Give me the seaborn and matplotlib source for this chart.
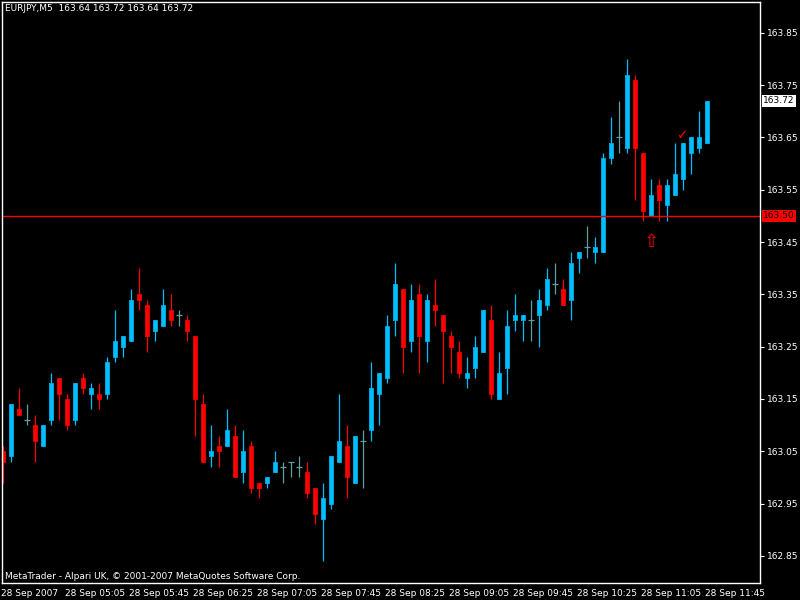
import numpy as np
import pandas as pd
import matplotlib
matplotlib.use("Agg")
import matplotlib.pyplot as plt
import matplotlib.transforms as mtransforms
import seaborn as sns

# EURJPY M5, 28 Sep 2007 04:25 .. 11:45
opens = [163.05, 163.04, 163.13, 163.11, 163.10, 163.06, 163.11, 163.19, 163.15, 163.11,
         163.19, 163.16, 163.16, 163.16, 163.23, 163.25, 163.26, 163.35, 163.33, 163.28,
         163.29, 163.32, 163.31, 163.30, 163.27, 163.14, 163.04, 163.06, 163.06, 163.08,
         163.01, 163.06, 162.99, 162.99, 163.01, 163.02, 163.03, 163.02, 163.01, 162.98,
         162.92, 162.95, 163.03, 163.06, 162.99, 163.07, 163.09, 163.16, 163.19, 163.30,
         163.36, 163.26, 163.35, 163.26, 163.33, 163.31, 163.27, 163.24, 163.19, 163.21,
         163.24, 163.30, 163.15, 163.21, 163.30, 163.30, 163.30, 163.31, 163.33, 163.37,
         163.36, 163.34, 163.42, 163.44, 163.43, 163.43, 163.61, 163.65, 163.63, 163.76,
         163.62, 163.50, 163.56, 163.52, 163.54, 163.57, 163.62, 163.63, 163.64]
highs = [163.06, 163.14, 163.17, 163.14, 163.12, 163.10, 163.20, 163.19, 163.16, 163.18,
         163.20, 163.18, 163.18, 163.23, 163.32, 163.27, 163.36, 163.40, 163.34, 163.30,
         163.36, 163.35, 163.32, 163.31, 163.27, 163.16, 163.10, 163.08, 163.13, 163.10,
         163.09, 163.07, 162.99, 163.00, 163.05, 163.03, 163.03, 163.04, 163.03, 162.98,
         162.99, 163.04, 163.16, 163.10, 163.08, 163.09, 163.22, 163.20, 163.31, 163.41,
         163.36, 163.37, 163.37, 163.35, 163.38, 163.31, 163.28, 163.26, 163.23, 163.27,
         163.32, 163.33, 163.24, 163.32, 163.35, 163.31, 163.34, 163.36, 163.40, 163.41,
         163.38, 163.43, 163.43, 163.48, 163.46, 163.62, 163.69, 163.72, 163.80, 163.77,
         163.62, 163.57, 163.57, 163.57, 163.64, 163.64, 163.65, 163.70, 163.72]
lows = [162.99, 163.03, 163.12, 163.10, 163.03, 163.06, 163.10, 163.11, 163.09, 163.10,
        163.16, 163.13, 163.13, 163.15, 163.22, 163.23, 163.26, 163.32, 163.24, 163.26,
        163.29, 163.29, 163.29, 163.26, 163.08, 163.03, 163.02, 163.02, 163.06, 163.00,
        162.99, 162.97, 162.96, 162.98, 163.01, 162.99, 163.00, 163.00, 162.96, 162.91,
        162.84, 162.94, 163.03, 162.96, 162.99, 162.98, 163.07, 163.10, 163.18, 163.27,
        163.20, 163.24, 163.20, 163.22, 163.29, 163.18, 163.20, 163.19, 163.17, 163.19,
        163.24, 163.15, 163.15, 163.16, 163.28, 163.26, 163.26, 163.25, 163.32, 163.35,
        163.33, 163.30, 163.39, 163.42, 163.41, 163.43, 163.60, 163.62, 163.62, 163.53,
        163.49, 163.50, 163.49, 163.49, 163.54, 163.55, 163.58, 163.62, 163.64]
closes = [163.03, 163.14, 163.12, 163.11, 163.07, 163.10, 163.18, 163.16, 163.10, 163.18,
          163.17, 163.17, 163.15, 163.22, 163.26, 163.27, 163.34, 163.34, 163.27, 163.30,
          163.33, 163.30, 163.31, 163.28, 163.15, 163.03, 163.05, 163.05, 163.09, 163.00,
          163.05, 162.98, 162.98, 163.00, 163.03, 163.02, 163.03, 163.02, 162.97, 162.93,
          162.96, 163.04, 163.07, 163.00, 163.08, 163.07, 163.17, 163.20, 163.29, 163.37,
          163.25, 163.34, 163.27, 163.34, 163.32, 163.28, 163.25, 163.20, 163.20, 163.25,
          163.32, 163.16, 163.20, 163.29, 163.31, 163.31, 163.30, 163.34, 163.38, 163.37,
          163.33, 163.41, 163.43, 163.44, 163.44, 163.61, 163.64, 163.65, 163.77, 163.63,
          163.51, 163.54, 163.53, 163.56, 163.58, 163.64, 163.65, 163.65, 163.72]

tick_labels = ["28 Sep 2007", "28 Sep 05:05", "28 Sep 05:45", "28 Sep 06:25",
               "28 Sep 07:05", "28 Sep 07:45", "28 Sep 08:25", "28 Sep 09:05",
               "28 Sep 09:45", "28 Sep 10:25", "28 Sep 11:05", "28 Sep 11:45"]
price_ticks = [162.85, 162.95, 163.05, 163.15, 163.25, 163.35, 163.45,
               163.55, 163.65, 163.75, 163.85]
hline_price = 163.50
arrow_bar, arrow_price = 81, 163.45
check_bar, check_price = 85, 163.655

df = pd.DataFrame({"open": opens, "high": highs, "low": lows, "close": closes})
df["idx"] = np.arange(len(df))

UP = "#00bfff"
DOWN = "#ff0000"
DOJI = "#5f9ea0"

sns.set_theme(style="dark", rc={
    "axes.facecolor": "black", "figure.facecolor": "black",
    "axes.edgecolor": "white", "axes.grid": False,
    "text.color": "white", "xtick.color": "white", "ytick.color": "white",
})
plt.rcParams["font.family"] = ["DejaVu Sans"]

fig = plt.figure(figsize=(8, 6), dpi=100)
ax = fig.add_axes([2 / 800, 17 / 600, 758 / 800, 581 / 600])

up = df[df.close > df.open]
down = df[df.close < df.open]
flat = df[df.close == df.open]

# wicks
ax.vlines(up.idx, up.low, up.high, color=UP, lw=0.9)
ax.vlines(down.idx, down.low, down.high, color=DOWN, lw=0.9)
ax.vlines(flat.idx, flat.low, flat.high, color=DOJI, lw=0.9)

# bodies
ax.bar(up.idx, up.close - up.open, bottom=up.open, width=0.62, color=UP,
       edgecolor=UP, linewidth=0.5)
ax.bar(down.idx, down.open - down.close, bottom=down.close, width=0.62, color=DOWN,
       edgecolor=DOWN, linewidth=0.5)
ax.hlines(flat.open, flat.idx - 0.33, flat.idx + 0.33, color=DOJI, lw=0.9)

ax.axhline(hline_price, color="red", lw=1.0)

ax.set_xlim(-0.125, 94.625)
ax.set_ylim(162.798, 163.909)

for s in ax.spines.values():
    s.set_color("white")
    s.set_linewidth(1)

ax.yaxis.tick_right()
ax.set_yticks(price_ticks)
ax.set_yticklabels([f"{p:.2f}" for p in price_ticks])
ax.tick_params(axis="y", direction="out", length=3, width=0.8, pad=2, labelsize=6.5)

ax.set_xticks(np.arange(0, len(df), 8))
ax.set_xticklabels(tick_labels, ha="left")
ax.tick_params(axis="x", direction="out", length=3, width=0.8, pad=1, labelsize=6.5)
offset = mtransforms.ScaledTranslation(-2 / 100, 0, fig.dpi_scale_trans)
for lab in ax.get_xticklabels():
    lab.set_transform(lab.get_transform() + offset)

# price labels on the right
trans = mtransforms.blended_transform_factory(ax.transAxes, ax.transData)
ax.text(1.004, closes[-1], f"{closes[-1]:.2f}", transform=trans, fontsize=6.5,
        color="black", va="center", ha="left",
        bbox=dict(boxstyle="square,pad=0.15", fc="white", ec="none"), clip_on=False)
ax.text(1.004, hline_price, f"{hline_price:.2f}", transform=trans, fontsize=6.5,
        color="black", va="center", ha="left",
        bbox=dict(boxstyle="square,pad=0.15", fc="red", ec="none"), clip_on=False)

# objects on chart
ax.text(arrow_bar, arrow_price, "\u21e7", color="red", fontsize=13, ha="center", va="center")
ax.text(check_bar, check_price, "\u2713", color="red", fontsize=10, ha="center", va="center")

ax.text(0.004, 0.988, f"EURJPY,M5  {opens[-1]:.2f} {highs[-1]:.2f} {lows[-1]:.2f} {closes[-1]:.2f}",
        transform=ax.transAxes, fontsize=6.5, color="white", va="center", ha="left")
ax.text(0.004, 0.012, "MetaTrader - Alpari UK, \u00a9 2001-2007 MetaQuotes Software Corp.",
        transform=ax.transAxes, fontsize=6.5, color="white", va="center", ha="left")

fig.savefig("out.png", dpi=100, facecolor="black")
